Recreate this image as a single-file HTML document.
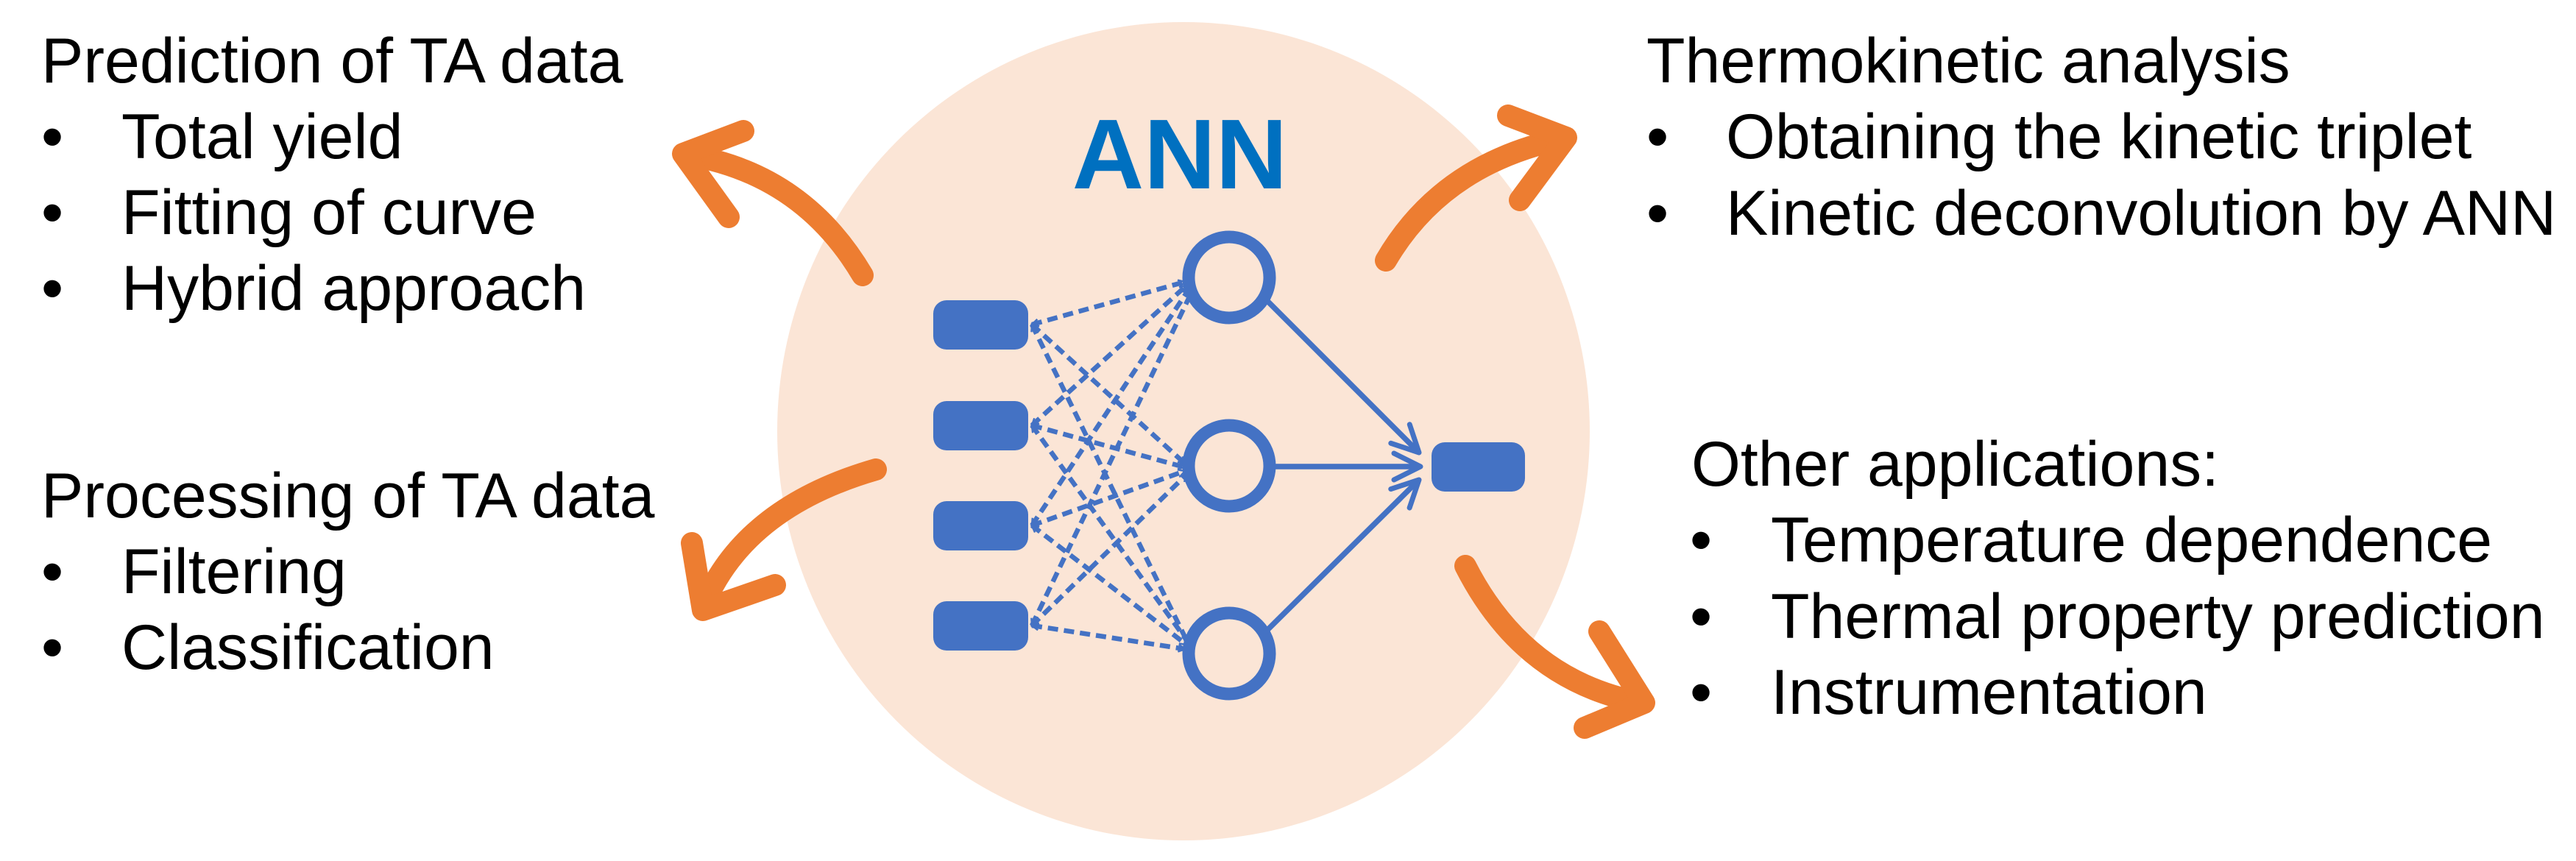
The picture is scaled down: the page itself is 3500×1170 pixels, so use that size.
<!DOCTYPE html>
<html><head><meta charset="utf-8"><style>
html,body{margin:0;padding:0;background:#fff;}
svg{display:block;}
text{font-family:"Liberation Sans",Arial,sans-serif;fill:#000;}
</style></head><body>
<svg width="3500" height="1170" viewBox="0 0 3500 1170" xmlns="http://www.w3.org/2000/svg">
<defs>
<marker id="da" markerWidth="12" markerHeight="12" refX="10" refY="6" orient="auto-start-reverse" markerUnits="userSpaceOnUse" viewBox="0 0 12 12">
<path d="M1,1 L10,6 L1,11" fill="none" stroke="#4472C4" stroke-width="2.5"/>
</marker>
<marker id="sa" markerWidth="44" markerHeight="44" refX="40" refY="22" orient="auto" markerUnits="userSpaceOnUse" viewBox="0 0 44 44">
<path d="M4,4 L40,22 L4,40" fill="none" stroke="#4472C4" stroke-width="7" stroke-linecap="round" stroke-linejoin="round"/>
</marker>
</defs>
<ellipse cx="1608" cy="586" rx="552" ry="556" fill="#FBE5D6"/>
<text x="1603" y="256" font-size="135" font-weight="bold" text-anchor="middle" style="fill:#0070C0">ANN</text>

<g stroke="#4472C4" stroke-width="6.5" stroke-dasharray="14,8" fill="none" marker-start="url(#da)" marker-end="url(#da)">
<line x1="1402" y1="441" x2="1610" y2="383"/>
<line x1="1402" y1="441" x2="1610" y2="630"/>
<line x1="1402" y1="441" x2="1618" y2="882"/>
<line x1="1402" y1="578" x2="1612" y2="388"/>
<line x1="1402" y1="578" x2="1610" y2="635"/>
<line x1="1402" y1="578" x2="1618" y2="878"/>
<line x1="1402" y1="714" x2="1616" y2="392"/>
<line x1="1402" y1="714" x2="1610" y2="640"/>
<line x1="1402" y1="714" x2="1612" y2="876"/>
<line x1="1402" y1="850" x2="1620" y2="395"/>
<line x1="1402" y1="850" x2="1612" y2="645"/>
<line x1="1402" y1="850" x2="1610" y2="882"/>
</g>

<g fill="#4472C4">
<rect x="1268" y="408" width="129" height="67" rx="18"/>
<rect x="1268" y="545" width="129" height="67" rx="18"/>
<rect x="1268" y="681" width="129" height="67" rx="18"/>
<rect x="1268" y="817" width="129" height="67" rx="18"/>
<rect x="1945" y="601" width="127" height="67" rx="18"/>
</g>
<g fill="none" stroke="#4472C4" stroke-width="17">
<circle cx="1670" cy="377" r="55"/>
<circle cx="1670" cy="633" r="55"/>
<circle cx="1670" cy="888" r="55"/>
</g>
<g stroke="#4472C4" stroke-width="7.5" fill="none" marker-end="url(#sa)">
<line x1="1718" y1="405" x2="1928" y2="615"/>
<line x1="1726" y1="634" x2="1930" y2="634"/>
<line x1="1718" y1="860" x2="1928" y2="652"/>
</g>

<g stroke="#ED7D31" stroke-width="30" fill="none" stroke-linecap="round" stroke-linejoin="round">
<path d="M1172,374 Q1090,235 932,210"/>
<path d="M1010,178 L928,209 L990,295"/>
<path d="M1190,638 Q1010,690 955,825"/>
<path d="M940,738 L955,829 L1053,795"/>
<path d="M1883,354 Q1960,222 2125,188"/>
<path d="M2049,157 L2128,187 L2065,272"/>
<path d="M1991,769 Q2070,925 2230,955"/>
<path d="M2173,858 L2234,955 L2153,989"/>
</g>

<g font-size="86">
<text x="56" y="112">Prediction of TA data</text>
<text x="56" y="215">•</text><text x="165" y="215">Total yield</text>
<text x="56" y="318">•</text><text x="165" y="318">Fitting of curve</text>
<text x="56" y="421">•</text><text x="165" y="421">Hybrid approach</text>
<text x="56" y="703">Processing of TA data</text>
<text x="56" y="806">•</text><text x="165" y="806">Filtering</text>
<text x="56" y="909">•</text><text x="165" y="909">Classification</text>

<text x="2237" y="112">Thermokinetic analysis</text>
<text x="2237" y="215">•</text><text x="2345" y="215">Obtaining the kinetic triplet</text>
<text x="2237" y="319">•</text><text x="2345" y="319">Kinetic deconvolution by ANN</text>
<text x="2298" y="660">Other applications:</text>
<text x="2296" y="763">•</text><text x="2406" y="763">Temperature dependence</text>
<text x="2296" y="867">•</text><text x="2406" y="867">Thermal property prediction</text>
<text x="2296" y="970">•</text><text x="2406" y="970">Instrumentation</text>
</g>
</svg>
</body></html>
